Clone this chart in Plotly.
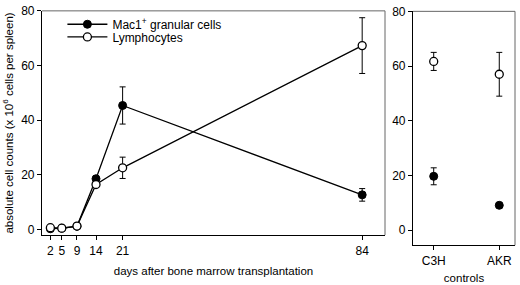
import plotly.graph_objects as go

days = [2, 5, 9, 14, 21, 84]
mac1 = [0.3, 0.5, 1.2, 18.6, 45.4, 12.7]
mac1_err = [0, 0, 0, 0, 6.8, 2.3]
lymph = [0.7, 0.5, 1.3, 16.5, 22.6, 67.3]
lymph_err = [0, 0, 0, 0, 3.9, 10.2]

controls = ["C3H", "AKR"]
ctrl_mac1 = [19.7, 9.1]
ctrl_mac1_err = [3.1, 0]
ctrl_lymph = [61.7, 57.0]
ctrl_lymph_err = [3.3, 8.0]

y_ticks = [0, 20, 40, 60, 80]

FONT = "Liberation Sans, Arial, sans-serif"
line_style = dict(color="black", width=1.3)
err_style = dict(color="black", thickness=1, width=3)

fig = go.Figure()
fig.add_trace(go.Scatter(
    x=days, y=mac1, mode="lines+markers", name="Mac1<sup>+</sup> granular cells",
    line=line_style, legend="legend",
    marker=dict(symbol="circle", size=8, color="black", line=dict(color="black", width=1)),
    error_y=dict(type="data", array=mac1_err, visible=True, **err_style),
    xaxis="x", yaxis="y"))
fig.add_trace(go.Scatter(
    x=days, y=lymph, mode="lines+markers", name="Lymphocytes",
    line=line_style, legend="legend2",
    marker=dict(symbol="circle", size=8, color="white", line=dict(color="black", width=1.3)),
    error_y=dict(type="data", array=lymph_err, visible=True, **err_style),
    xaxis="x", yaxis="y"))
fig.add_trace(go.Scatter(
    x=controls, y=ctrl_mac1, mode="markers", showlegend=False,
    marker=dict(symbol="circle", size=8, color="black", line=dict(color="black", width=1)),
    error_y=dict(type="data", array=ctrl_mac1_err, visible=True, **err_style),
    xaxis="x2", yaxis="y2"))
fig.add_trace(go.Scatter(
    x=controls, y=ctrl_lymph, mode="markers", showlegend=False,
    marker=dict(symbol="circle", size=8, color="white", line=dict(color="black", width=1.3)),
    error_y=dict(type="data", array=ctrl_lymph_err, visible=True, **err_style),
    xaxis="x2", yaxis="y2"))

axis_common = dict(showline=True, linecolor="black", linewidth=1.2, ticks="outside",
                   ticklen=4, tickcolor="black", showgrid=False, zeroline=False,
                   ticklabeloverflow="allow",
                   tickfont=dict(family=FONT, size=12, color="black"))

L0, L1 = 42 / 520, 385 / 520
R0, R1 = 413 / 520, 515 / 520
LB, LT = 1 - 235.5 / 285, 1 - 4 / 285
RB, RT = 1 - 246 / 285, 1 - 4.5 / 285

legend_common = dict(xanchor="left", yanchor="top", bgcolor="rgba(0,0,0,0)",
                     font=dict(family=FONT, size=12, color="black"), itemwidth=40)

fig.update_layout(
    width=520, height=285,
    margin=dict(l=0, r=0, t=0, b=0),
    paper_bgcolor="white", plot_bgcolor="white",
    font=dict(family=FONT, size=12, color="black"),
    showlegend=True,
    legend=dict(x=0.12, y=0.99, **legend_common),
    legend2=dict(x=0.12, y=0.944, **legend_common),
    xaxis=dict(domain=[L0, L1], range=[-0.2, 90], tickvals=days, anchor="y",
               title=dict(text="days after bone marrow transplantation",
                          font=dict(family=FONT, size=11.5), standoff=10),
               **axis_common),
    yaxis=dict(domain=[LB, LT], range=[-2.0, 80], tickvals=y_ticks, anchor="x",
               title=dict(text="absolute cell counts (x 10<sup>6</sup> cells per spleen)",
                          font=dict(family=FONT, size=11.5), standoff=5),
               **axis_common),
    xaxis2=dict(domain=[R0, R1], range=[-0.316, 1.24], anchor="y2",
                title=dict(text="controls", font=dict(family=FONT, size=11.5), standoff=7),
                **axis_common),
    yaxis2=dict(domain=[RB, RT], range=[-5.5, 80], tickvals=y_ticks, anchor="x2",
                **axis_common),
)

frame = dict(color="#666666", width=1)
for (x0, x1, y0, y1) in [(L0, L1, LT, LT), (L1, L1, LB, LT), (R0, R1, RT, RT), (R1, R1, RB, RT)]:
    fig.add_shape(type="line", xref="paper", yref="paper", x0=x0, x1=x1, y0=y0, y1=y1,
                  line=frame)

fig.write_html("out.html", config={"displayModeBar": False},
               post_script="document.body.style.margin='0';document.body.style.overflow='hidden';")
